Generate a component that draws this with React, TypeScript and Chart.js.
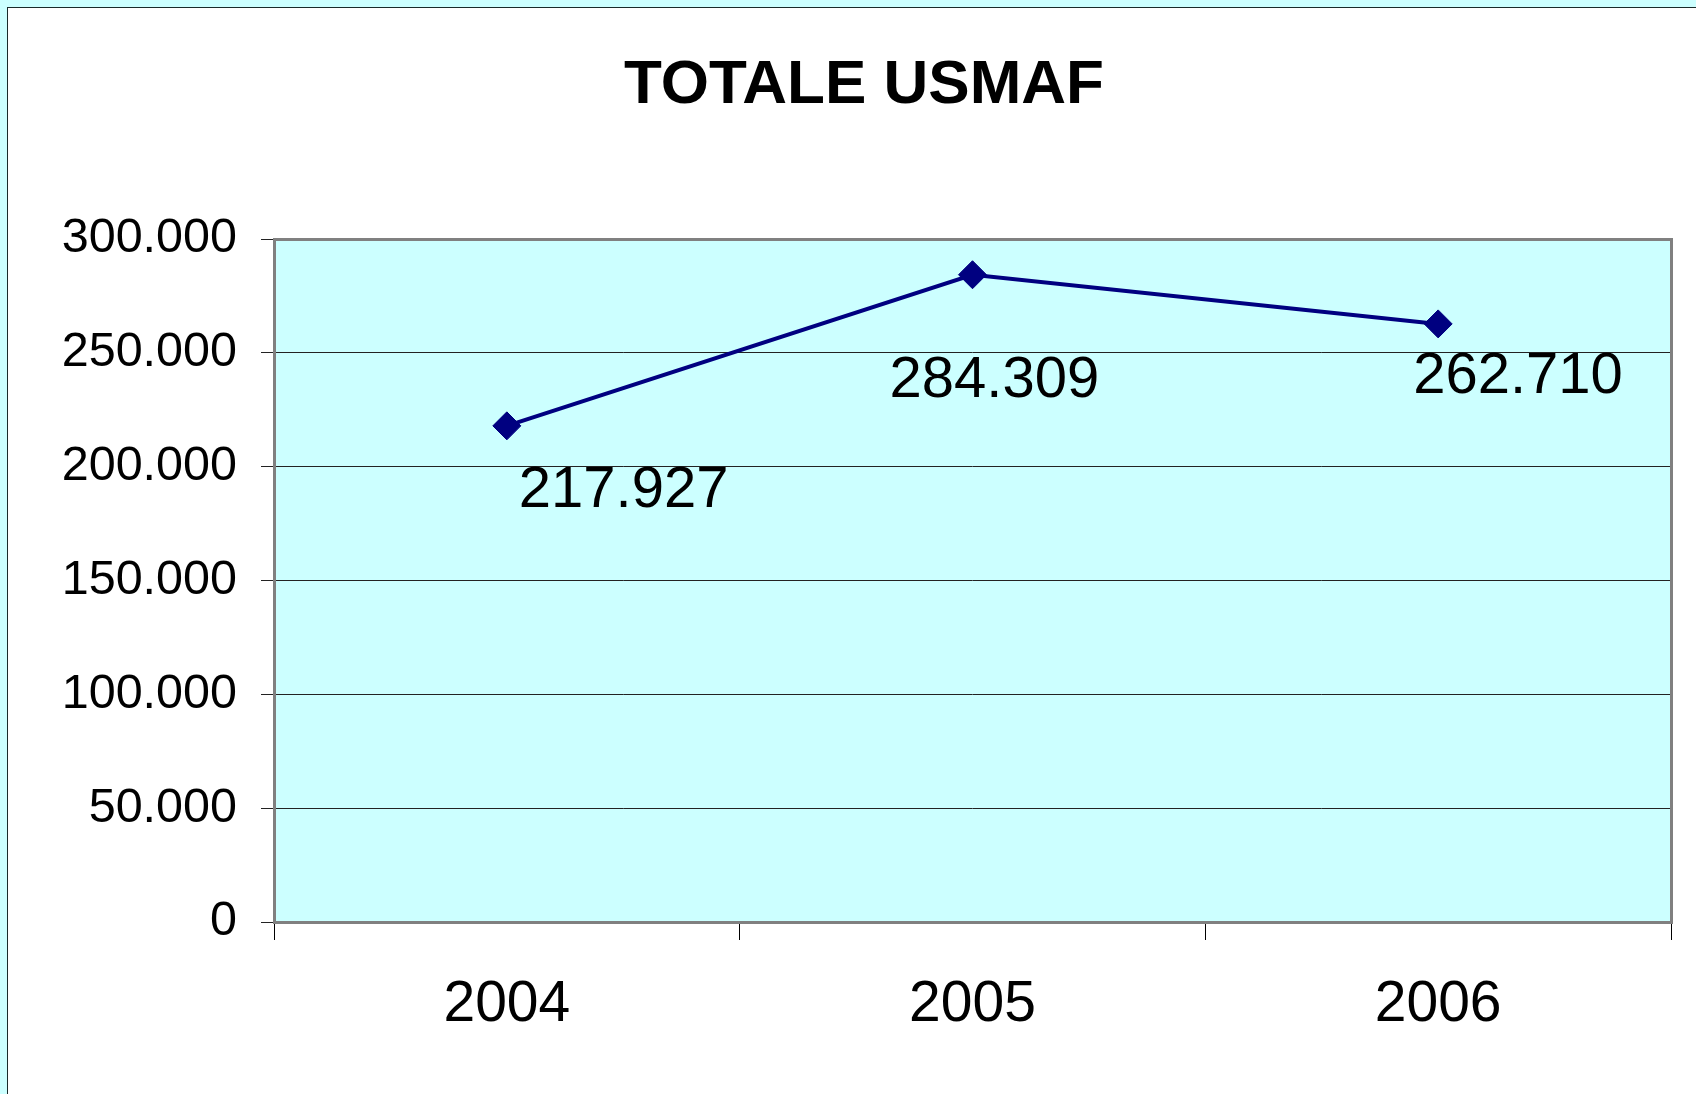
import React, { useEffect, useRef } from "react";
import { Chart, registerables } from "chart.js";

Chart.register(...registerables);

const TITLE = "TOTALE USMAF";
const categories = ["2004", "2005", "2006"];
const values = [217927, 284309, 262710];
const yTicks = [0, 50000, 100000, 150000, 200000, 250000, 300000];
// pixel offsets of each data label (left edge, vertical centre) from its point
const labelOffsetsX = [12, -83, -25];
const labelOffsetsY = [65, 106, 53];

const FONT = "'Liberation Sans', Arial, Helvetica, sans-serif";

function fmt(v: number): string {
  return String(Math.round(v)).replace(/\B(?=(\d{3})+(?!\d))/g, ".");
}

const plotBgPlugin = {
  id: "plotBg",
  beforeDraw(chart: any) {
    const { ctx, chartArea } = chart;
    ctx.save();
    ctx.fillStyle = "#CCFFFF";
    ctx.fillRect(chartArea.left, chartArea.top, chartArea.right - chartArea.left, chartArea.bottom - chartArea.top);
    ctx.restore();
  },
  beforeDatasetsDraw(chart: any) {
    const { ctx, chartArea } = chart;
    ctx.save();
    ctx.strokeStyle = "#808080";
    ctx.lineWidth = 3;
    ctx.strokeRect(chartArea.left + 0.5, chartArea.top + 0.5, chartArea.right - chartArea.left, chartArea.bottom - chartArea.top);
    ctx.restore();
  },
};

const titlePlugin = {
  id: "customTitle",
  afterDraw(chart: any) {
    const { ctx } = chart;
    ctx.save();
    ctx.font = `bold 62px ${FONT}`;
    ctx.fillStyle = "#000";
    ctx.textAlign = "center";
    ctx.textBaseline = "alphabetic";
    ctx.fillText(TITLE, 856, 95);
    ctx.restore();
  },
};

const dataLabelPlugin = {
  id: "dataLabels",
  afterDatasetsDraw(chart: any) {
    const { ctx } = chart;
    const meta = chart.getDatasetMeta(0);
    ctx.save();
    ctx.font = `58px ${FONT}`;
    ctx.fillStyle = "#000";
    ctx.textAlign = "left";
    ctx.textBaseline = "middle";
    meta.data.forEach((pt: any, i: number) => {
      ctx.fillText(fmt(values[i]), pt.x + labelOffsetsX[i], pt.y + labelOffsetsY[i]);
    });
    ctx.restore();
  },
};

export default function App() {
  const ref = useRef<HTMLCanvasElement | null>(null);

  useEffect(() => {
    if (!ref.current) return;
    const chart = new Chart(ref.current, {
      type: "line",
      data: {
        labels: categories,
        datasets: [
          {
            label: TITLE,
            data: values,
            borderColor: "#000080",
            backgroundColor: "#000080",
            borderWidth: 4,
            pointStyle: "rectRot",
            pointRadius: 14,
            pointBorderWidth: 1,
            pointBackgroundColor: "#000080",
            pointBorderColor: "#000080",
            tension: 0,
          },
        ],
      },
      options: {
        animation: false,
        responsive: false,
        devicePixelRatio: 1,
        layout: { padding: { top: 231, right: 25, bottom: 0, left: 0 } },
        plugins: {
          legend: { display: false },
          tooltip: { enabled: false },
          title: { display: false },
        },
        scales: {
          x: {
            type: "category",
            offset: true,
            grid: {
              offset: true,
              drawOnChartArea: false,
              drawTicks: true,
              tickLength: 18,
              color: "#000",
              lineWidth: 1,
            },
            border: { display: false },
            ticks: {
              color: "#000",
              font: { family: FONT, size: 57 },
              padding: 31,
              maxRotation: 0,
              autoSkip: false,
            },
            afterFit(scale: any) {
              scale.height = 172;
            },
          },
          y: {
            min: 0,
            max: 300000,
            afterBuildTicks(scale: any) {
              scale.ticks = yTicks.map((v) => ({ value: v }));
            },
            grid: {
              drawOnChartArea: true,
              drawTicks: true,
              tickLength: 13,
              color: "#222",
              lineWidth: 1,
            },
            border: { display: false },
            ticks: {
              color: "#000",
              font: { family: FONT, size: 48.5 },
              padding: 24,
              callback: (v: any) => fmt(Number(v)),
            },
            afterFit(scale: any) {
              scale.width = 266;
            },
          },
        },
      },
      plugins: [plotBgPlugin, dataLabelPlugin, titlePlugin],
    });
    return () => chart.destroy();
  }, []);

  return (
    <div style={{ position: "fixed", left: 0, top: 0, right: 0, bottom: 0, background: "#CCFFFF", overflow: "hidden" }}>
      <div
        style={{
          position: "absolute",
          left: 7,
          top: 7,
          width: 1700,
          height: 1100,
          border: "1px solid #1a2a2a",
          background: "#fff",
        }}
      >
        <canvas ref={ref} width={1688} height={1086} style={{ display: "block", width: 1688, height: 1086 }} />
      </div>
    </div>
  );
}
